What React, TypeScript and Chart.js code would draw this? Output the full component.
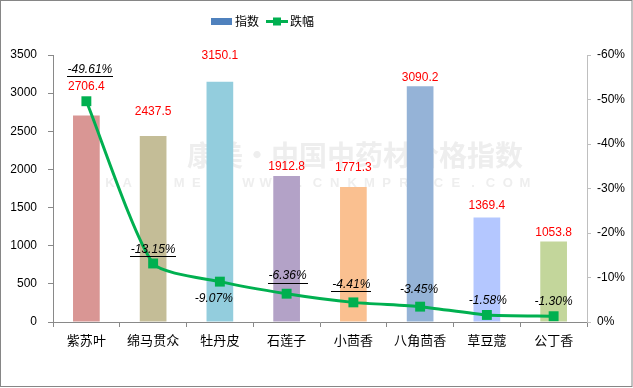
import React, { useEffect, useRef } from "react";
import { Chart, registerables } from "chart.js";

Chart.register(...registerables);

const categories = ["紫苏叶", "绵马贯众", "牡丹皮", "石莲子", "小茴香", "八角茴香", "草豆蔻", "公丁香"];
const indexValues = [2706.4, 2437.5, 3150.1, 1912.8, 1771.3, 3090.2, 1369.4, 1053.8];
// 跌幅 (drop) magnitudes, shown with a minus sign
const dropValues = [49.61, 13.15, 9.07, 6.36, 4.41, 3.45, 1.58, 1.3];
const dropLabels = ["-49.61%", "-13.15%", "-9.07%", "-6.36%", "-4.41%", "-3.45%", "-1.58%", "-1.30%"];
const leftTicks = [0, 500, 1000, 1500, 2000, 2500, 3000, 3500];
const rightTicks = [0, 10, 20, 30, 40, 50, 60];

const barColors = ["#D99694", "#C4BD97", "#93CDDD", "#B3A2C7", "#FAC090", "#95B3D7", "#B4C7FF", "#C3D69B"];
// label placement styling (pixel offsets)
const barLabelGap = [29, 24, 26, 9, 19, 9, 12, 9];
const dropLabelOffset: [number, number][] = [
  [3.5, -32], [0, -14], [-6, 17], [1, -18], [-2, -18], [-1, -17], [1, -14], [0, -15],
];
const dropLabelUnderline = [true, true, false, true, true, false, false, false];

const LATIN = "'Liberation Sans', Arial, sans-serif";
const CJK = "'Noto Sans CJK SC', sans-serif";

const decorPlugin = {
  id: "decor",
  beforeDatasetsDraw(chart: any) {
    const ctx = chart.ctx;
    ctx.save();
    ctx.fillStyle = "#EEEEEE";
    ctx.textAlign = "left";
    ctx.textBaseline = "middle";
    ctx.font = `bold 28px ${CJK}`;
    ctx.fillText("康美·中国中药材价格指数", 187, 155);
    ctx.font = `bold 13px ${LATIN}`;
    const s = "KANGMEI WWW.CNKMPRICE.COM";
    const chars = s.split("");
    ctx.textAlign = "center";
    let x = 110;
    const step = 415 / (chars.length - 1);
    for (const c of chars) {
      ctx.fillText(c, x, 183);
      x += step;
    }
    ctx.restore();
  },
  afterDatasetsDraw(chart: any) {
    const ctx = chart.ctx;
    ctx.save();
    // bar value labels
    const barMeta = chart.getDatasetMeta(0);
    ctx.font = `12px ${LATIN}`;
    ctx.fillStyle = "#FF0000";
    ctx.textAlign = "center";
    ctx.textBaseline = "middle";
    barMeta.data.forEach((el: any, i: number) => {
      ctx.fillText(indexValues[i].toFixed(1), el.x, el.y - barLabelGap[i]);
    });
    // line labels
    const lineMeta = chart.getDatasetMeta(1);
    ctx.font = `italic 12px ${LATIN}`;
    ctx.fillStyle = "#000000";
    ctx.strokeStyle = "#000000";
    ctx.lineWidth = 1;
    lineMeta.data.forEach((el: any, i: number) => {
      const [dx, dy] = dropLabelOffset[i];
      const cx = el.x + dx;
      const cy = el.y + dy;
      ctx.fillText(dropLabels[i], cx, cy);
      if (dropLabelUnderline[i]) {
        const w = ctx.measureText(dropLabels[i]).width;
        ctx.beginPath();
        ctx.moveTo(Math.round(cx - w / 2) - 1, Math.round(cy + 7) + 0.5);
        ctx.lineTo(Math.round(cx + w / 2) + 1, Math.round(cy + 7) + 0.5);
        ctx.stroke();
      }
    });
    ctx.restore();
  },
  afterDraw(chart: any) {
    const ctx = chart.ctx;
    ctx.save();
    // legend
    ctx.fillStyle = "#4F81BD";
    ctx.fillRect(211, 18, 21, 7);
    ctx.font = `12px ${CJK}`;
    ctx.fillStyle = "#000";
    ctx.textAlign = "left";
    ctx.textBaseline = "middle";
    ctx.fillText("指数", 235, 21.5);
    ctx.strokeStyle = "#00B050";
    ctx.lineWidth = 3;
    ctx.beginPath();
    ctx.moveTo(266, 21.5);
    ctx.lineTo(288, 21.5);
    ctx.stroke();
    ctx.fillStyle = "#00B050";
    ctx.fillRect(273, 17.5, 8, 8);
    ctx.fillStyle = "#000";
    ctx.fillText("跌幅", 290, 21.5);
    // outer border
    ctx.strokeStyle = "#868686";
    ctx.lineWidth = 1;
    ctx.strokeRect(0.5, 0.5, chart.width - 1.5, chart.height - 2);
    ctx.restore();
  },
};

export default function App() {
  const ref = useRef<HTMLCanvasElement | null>(null);
  useEffect(() => {
    if (!ref.current) return;
    const chart = new Chart(ref.current, {
      type: "bar",
      data: {
        labels: categories,
        datasets: [
          {
            type: "bar",
            label: "指数",
            data: indexValues,
            backgroundColor: barColors,
            borderWidth: 0,
            barPercentage: 0.4,
            categoryPercentage: 1,
            yAxisID: "y",
            order: 1,
          },
          {
            type: "line",
            label: "跌幅",
            data: dropValues,
            borderColor: "#00B050",
            backgroundColor: "#00B050",
            borderWidth: 3,
            pointStyle: "rect",
            pointRadius: 7,
            pointBorderWidth: 0,
            tension: 0.2,
            yAxisID: "y1",
            order: 0,
          } as any,
        ],
      },
      options: {
        animation: false,
        responsive: false,
        maintainAspectRatio: false,
        events: [],
        layout: { padding: { top: 55, left: 0, right: 0, bottom: 0 } },
        plugins: { legend: { display: false }, tooltip: { enabled: false } },
        scales: {
          x: {
            type: "category",
            offset: true,
            grid: { offset: true, drawOnChartArea: false, tickLength: 5, color: "#898989" },
            border: { color: "#898989" },
            ticks: { font: { family: CJK, size: 13 }, color: "#000", padding: 5, maxRotation: 0, autoSkip: false },
            afterFit: (s: any) => { s.height = 66; },
          },
          y: {
            position: "left",
            min: 0,
            max: 3500,
            afterBuildTicks: (s: any) => { s.ticks = leftTicks.map((v) => ({ value: v })); },
            ticks: {
              font: { family: LATIN, size: 12 },
              color: "#000",
              padding: 11,
              callback: (v: any) => String(v),
            },
            grid: { drawOnChartArea: false, tickLength: 5, color: "#898989" },
            border: { color: "#898989" },
            afterFit: (s: any) => { s.width = 53; },
          },
          y1: {
            position: "right",
            min: 0,
            max: 60,
            afterBuildTicks: (s: any) => { s.ticks = rightTicks.map((v) => ({ value: v })); },
            ticks: {
              font: { family: LATIN, size: 12 },
              color: "#000",
              padding: 6,
              callback: (v: any) => (Number(v) === 0 ? "0%" : "-" + v + "%"),
            },
            grid: { drawOnChartArea: false, tickLength: 4, color: "#BFBFBF" },
            border: { color: "#BFBFBF" },
            afterFit: (s: any) => { s.width = 46; },
          },
        },
      } as any,
      plugins: [decorPlugin],
    });
    return () => chart.destroy();
  }, []);
  return (
    <div style={{ position: "fixed", left: 0, top: 0, width: 633, height: 388, background: "#fff" }}>
      <canvas ref={ref} width={633} height={388} style={{ display: "block" }} />
    </div>
  );
}
